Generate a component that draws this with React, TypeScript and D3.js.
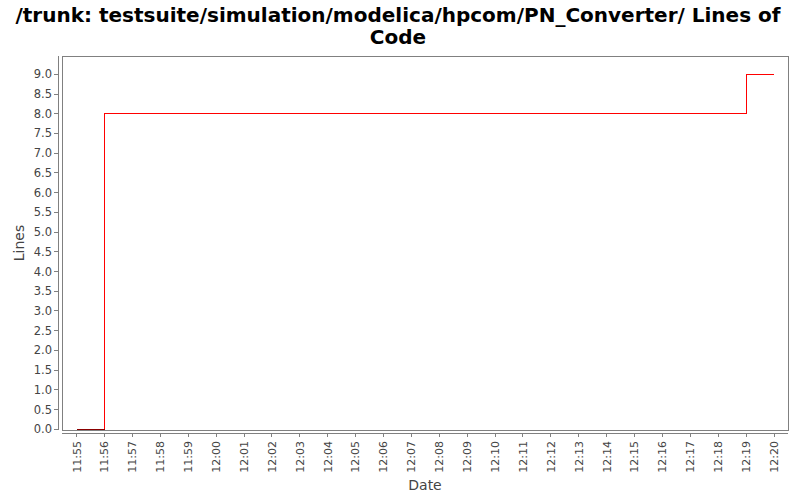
import React from 'react'
import * as d3 from 'd3'

const width = 800
const height = 500
const titleLines = ['/trunk: testsuite/simulation/modelica/hpcom/PN_Converter/ Lines of', 'Code']

// step data (minutes, lines)
const times = ['11:55', '11:56', '12:19', '12:20']
const lines = [0, 8, 9, 9]
const xTicks = ['11:55', '11:56', '11:57', '11:58', '11:59', '12:00', '12:01', '12:02', '12:03', '12:04', '12:05', '12:06', '12:07', '12:08', '12:09', '12:10', '12:11', '12:12', '12:13', '12:14', '12:15', '12:16', '12:17', '12:18', '12:19', '12:20']
const yTicks = [0, 0.5, 1, 1.5, 2, 2.5, 3, 3.5, 4, 4.5, 5, 5.5, 6, 6.5, 7, 7.5, 8, 8.5, 9]

const plot = { left: 62, right: 788, top: 56, bottom: 430 }
const font = 'DejaVu Sans, sans-serif'
const textColor = '#444444'

const parse = (s: string) => {
  const [h, m] = s.split(':').map(Number)
  return new Date(2014, 0, 1, h, m)
}

const data = times.map((t, i) => ({ date: parse(t), value: lines[i] }))

const x = d3.scaleTime()
  .domain([parse('11:55'), parse('12:20')])
  .range([76.7, 774])

const y = d3.scaleLinear()
  .domain([0, 9])
  .range([429.3, 74.3])

const line = d3.line<{ date: Date; value: number }>()
  .x(d => x(d.date))
  .y(d => y(d.value))
  .curve(d3.curveStepAfter)

const App = () => {
  return (
    <svg width={width} height={height} style={{ position: 'absolute', left: 0, top: 0 }}>
      <rect width={width} height={height} fill="#fff" />
      {titleLines.map((t, i) => (
        <text key={i} x={width / 2 - 2} y={22 + i * 22} textAnchor="middle" fontFamily={font}
          fontWeight="bold" fontSize={20} fill="#000">{t}</text>
      ))}

      {/* plot frame */}
      <rect x={plot.left} y={plot.top} width={plot.right - plot.left} height={plot.bottom - plot.top}
        fill="#fff" stroke="#808080" strokeWidth={1} shapeRendering="crispEdges" />

      <path d={line(data) ?? ''} fill="none" stroke="#ff0000" strokeWidth={1} shapeRendering="crispEdges" />
      <line x1={x(data[0].date)} x2={x(data[1].date)} y1={y(0)} y2={y(0)} stroke="#8a0000" shapeRendering="crispEdges" />

      {/* y axis */}
      <line x1={58} x2={58} y1={plot.top} y2={plot.bottom} stroke="#808080" shapeRendering="crispEdges" />
      {yTicks.map(v => (
        <g key={v} transform={`translate(0,${y(v)})`}>
          <line x1={54} x2={58} stroke="#808080" shapeRendering="crispEdges" />
          <text x={52} dy="0.35em" textAnchor="end" fontFamily={font} fontSize={11.5} fill={textColor}>{v.toFixed(1)}</text>
        </g>
      ))}
      <text transform={`translate(24,${(plot.top + plot.bottom) / 2}) rotate(-90)`} textAnchor="middle"
        fontFamily={font} fontSize={14} fill={textColor}>Lines</text>

      {/* x axis */}
      <line x1={plot.left} x2={plot.right} y1={433} y2={433} stroke="#808080" shapeRendering="crispEdges" />
      {xTicks.map(t => (
        <g key={t} transform={`translate(${x(parse(t))},0)`}>
          <line y1={433} y2={437} stroke="#808080" shapeRendering="crispEdges" />
          <text transform="translate(0,441) rotate(-90)" dy="0.35em" textAnchor="end"
            fontFamily={font} fontSize={11} fill={textColor}>{t}</text>
        </g>
      ))}
      <text x={(plot.left + plot.right) / 2} y={490} textAnchor="middle" fontFamily={font}
        fontSize={14} fill={textColor}>Date</text>
    </svg>
  )
}

export default App
